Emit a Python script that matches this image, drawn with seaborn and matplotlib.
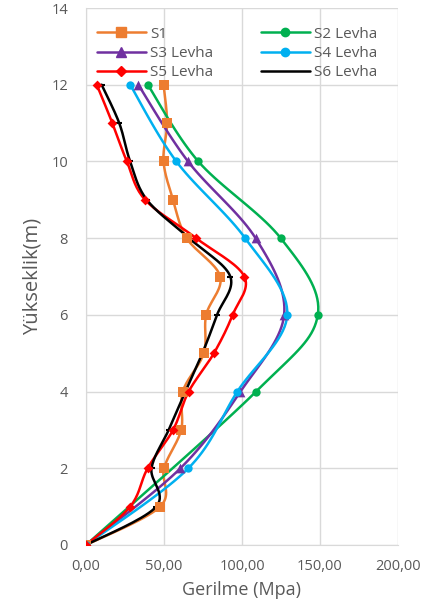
import numpy as np
import pandas as pd
import seaborn as sns
import matplotlib
matplotlib.use("Agg")
import matplotlib.pyplot as plt
from matplotlib.lines import Line2D
from matplotlib.ticker import FuncFormatter

# yükseklik (m)
h_full = [0, 1, 2, 3, 4, 5, 6, 7, 8, 9, 10, 11, 12]
h_even = [0, 2, 4, 6, 8, 10, 12]
h_s2 = [0, 4, 6, 8, 10, 12]

# gerilme (Mpa)
s1 = [0, 47.5, 50, 61, 62, 75.5, 77, 86, 64.5, 55.8, 49.7, 52, 49.7]
s2 = [0, 109, 148.6, 124.8, 72, 39.6]
s3 = [0, 60.5, 99, 127, 108.7, 65.4, 33.5]
s4 = [0, 65.6, 97, 129, 102, 57.9, 28.3]
s5 = [0, 28.3, 39.5, 55.8, 65.8, 82, 94, 101.5, 70.6, 37.9, 26.2, 16.9, 6.9]
s6 = [0, 45, 42, 53, 63.7, 74.6, 84, 92.5, 66, 39, 28.3, 21.3, 10]

series = [
    ("S1", s1, h_full, "#ED7D31", "s", 7),
    ("S2 Levha", s2, h_s2, "#00B050", "o", 6),
    ("S3 Levha", s3, h_even, "#7030A0", "^", 7),
    ("S4 Levha", s4, h_even, "#00B0F0", "o", 6),
    ("S5 Levha", s5, h_full, "#FF0000", "D", 5),
    ("S6 Levha", s6, h_full, "#000000", "_", 5),
]


def smooth(xs, ys, n=20):
    # excel tarzı yumuşatılmış çizgi (catmull-rom / bezier)
    p = np.column_stack([xs, ys]).astype(float)
    p = np.vstack([p[0], p, p[-1]])
    out = []
    t = np.linspace(0, 1, n)[:, None]
    for i in range(1, len(p) - 2):
        a, b = p[i], p[i + 1]
        c1 = a + (p[i + 1] - p[i - 1]) / 6
        c2 = b - (p[i + 2] - p[i]) / 6
        seg = ((1 - t) ** 3) * a + 3 * ((1 - t) ** 2) * t * c1 + 3 * (1 - t) * t ** 2 * c2 + t ** 3 * b
        out.append(seg if i == 1 else seg[1:])
    out = np.vstack(out)
    return out[:, 0], out[:, 1]


sns.set_style("whitegrid")
plt.rcParams["font.family"] = ["Open Sans", "DejaVu Sans"]
grey = "#595959"

fig = plt.figure(figsize=(4.27, 6.08), dpi=100)
ax = fig.add_axes([86 / 427, 63 / 608, 312 / 427, 537 / 608])

handles = []
for name, vals, hs, col, mk, ms in series:
    sx, sy = smooth(vals, hs)
    df = pd.DataFrame({"x": sx, "y": sy})
    sns.lineplot(data=df, x="x", y="y", sort=False, estimator=None, color=col,
                 lw=1.8, ax=ax, legend=False)
    pts = pd.DataFrame({"x": vals, "y": hs})
    if mk == "_":
        ax.plot(pts["x"], pts["y"], ls="none", marker=mk, ms=ms, mew=1.5, color=col)
        handles.append(Line2D([], [], color=col, lw=1.8, label=name))
    else:
        sns.scatterplot(data=pts, x="x", y="y", marker=mk, s=ms ** 2, color=col,
                        edgecolor=col, linewidth=0, ax=ax, legend=False, zorder=3)
        handles.append(Line2D([], [], color=col, lw=1.8, marker=mk, ms=ms, label=name))

ax.set_xlim(0, 200)
ax.set_ylim(0, 14)
ax.set_xticks([0, 50, 100, 150, 200])
ax.set_yticks(range(0, 15, 2))
ax.xaxis.set_major_formatter(FuncFormatter(lambda v, p: f"{v:.2f}".replace(".", ",")))
ax.grid(True, color="#d9d9d9", lw=1)
for s in ["top", "right"]:
    ax.spines[s].set_visible(False)
for s in ["left", "bottom"]:
    ax.spines[s].set_color("#d9d9d9")
ax.tick_params(axis="x", length=0, pad=10, labelsize=10.5, labelcolor=grey)
ax.tick_params(axis="y", length=0, pad=13, labelsize=10.5, labelcolor=grey)
ax.set_xlabel("Gerilme (Mpa)", fontsize=13, color=grey, labelpad=5)
ax.set_ylabel("Yükseklik(m)", fontsize=14.5, color=grey, labelpad=6)

order = [0, 2, 4, 1, 3, 5]
ax.legend([handles[i] for i in order], [handles[i].get_label() for i in order],
          ncol=2, loc="upper left", bbox_to_anchor=(0.0, 0.985), frameon=False,
          fontsize=11, labelcolor=grey, handlelength=3.2, handletextpad=0.3,
          columnspacing=3.1, labelspacing=0.28, borderaxespad=0.3)

fig.savefig("out.png", dpi=100)
